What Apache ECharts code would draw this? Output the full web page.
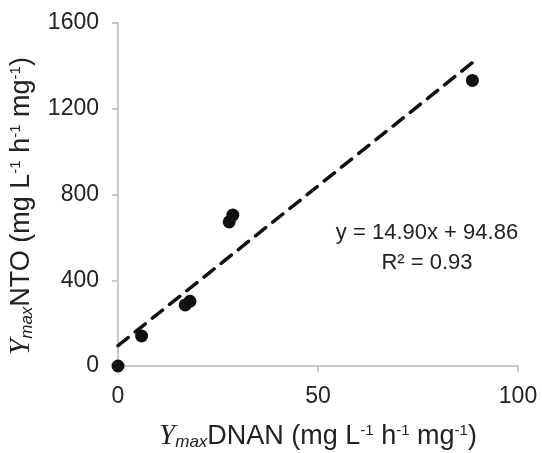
<!DOCTYPE html>
<html>
<head>
<meta charset="utf-8">
<script src="https://cdn.jsdelivr.net/npm/echarts@6/dist/echarts.min.js"></script>
<style>
  html, body { margin: 0; padding: 0; background: #fff; }
  #chart { width: 542px; height: 453px; }
</style>
</head>
<body>
<div id="chart"></div>
<script>
// Measured points: Ymax DNAN (x) vs Ymax NTO (y)
const dnanValues = [0, 5.9, 16.8, 18.0, 27.8, 28.7, 88.6];
const ntoValues = [0, 140, 285, 302, 672, 704, 1332];

// Trendline ends (dashed line)
const trendX = [0, 89];
const trendY = [94.86, 1421];

const xTicks = [0, 50, 100];
const yTicks = [0, 400, 800, 1200, 1600];

const equationLines = ['y = 14.90x + 94.86', 'R\u00b2 = 0.93'];

const FONT = '"Liberation Sans", Arial, sans-serif';
const SERIF = '"Liberation Serif", "Times New Roman", serif';
const TEXT_COLOR = '#222';
const AXIS_COLOR = '#c8c8c8';

// rich text pieces for the axis titles
const nameRich = {
  y: { fontFamily: SERIF, fontStyle: 'italic', fontSize: 29, color: TEXT_COLOR },
  sub: { fontFamily: FONT, fontStyle: 'italic', fontSize: 17, color: TEXT_COLOR, padding: [12, 0, 0, 0] },
  t: { fontFamily: FONT, fontSize: 27, color: TEXT_COLOR },
  sup: { fontFamily: FONT, fontSize: 15, color: TEXT_COLOR, padding: [0, 0, 12, 0] }
};

const chart = echarts.init(document.getElementById('chart'));

const scatterData = dnanValues.map((x, i) => [x, ntoValues[i]]);
const trendData = trendX.map((x, i) => [x, trendY[i]]);

const option = {
  animation: false,
  grid: {
    left: 118, right: 24, top: 23, bottom: 87,
    containLabel: false,
    outerBoundsMode: 'none'
  },
  xAxis: {
    type: 'value',
    min: xTicks[0],
    max: xTicks[xTicks.length - 1],
    interval: xTicks[1] - xTicks[0],
    name: '{y|Y}{sub|max}{t|DNAN (mg L}{sup|-1}{t| h}{sup|-1}{t| mg}{sup|-1}{t|)}',
    nameLocation: 'middle',
    nameGap: 56,
    nameTextStyle: { rich: nameRich },
    axisLine: { show: true, lineStyle: { color: AXIS_COLOR, width: 2 } },
    axisTick: { show: true, length: 6, lineStyle: { color: AXIS_COLOR, width: 2 } },
    axisLabel: { fontFamily: FONT, fontSize: 23, color: TEXT_COLOR, margin: 19 },
    splitLine: { show: false }
  },
  yAxis: {
    type: 'value',
    min: yTicks[0],
    max: yTicks[yTicks.length - 1],
    interval: yTicks[1] - yTicks[0],
    name: '{y|Y}{sub|max}{t|NTO (mg L}{sup|-1}{t| h}{sup|-1}{t| mg}{sup|-1}{t|)}',
    nameLocation: 'middle',
    nameGap: 82,
    nameRotate: 90,
    nameTextStyle: { rich: nameRich, padding: [0, 23, 0, 0] },
    axisLine: { show: true, lineStyle: { color: AXIS_COLOR, width: 2 } },
    axisTick: { show: true, length: 6, lineStyle: { color: AXIS_COLOR, width: 2 } },
    axisLabel: {
      fontFamily: FONT, fontSize: 23, color: TEXT_COLOR, margin: 19,
      formatter: v => String(v)
    },
    splitLine: { show: false }
  },
  series: [
    {
      type: 'line',
      data: trendData,
      showSymbol: false,
      symbol: 'none',
      lineStyle: { color: '#111', width: 3.5, type: [13, 9], cap: 'round' },
      z: 2
    },
    {
      type: 'scatter',
      data: scatterData,
      symbol: 'circle',
      symbolSize: 13,
      itemStyle: { color: '#111', opacity: 1 },
      clip: false,
      z: 3
    }
  ],
  graphic: [
    {
      type: 'text',
      x: 427,
      y: 218,
      style: {
        text: equationLines.join('\n'),
        fontFamily: FONT,
        fontSize: 22,
        lineHeight: 30,
        fill: TEXT_COLOR,
        align: 'center',
        verticalAlign: 'top'
      }
    }
  ]
};

chart.setOption(option);
</script>
</body>
</html>
